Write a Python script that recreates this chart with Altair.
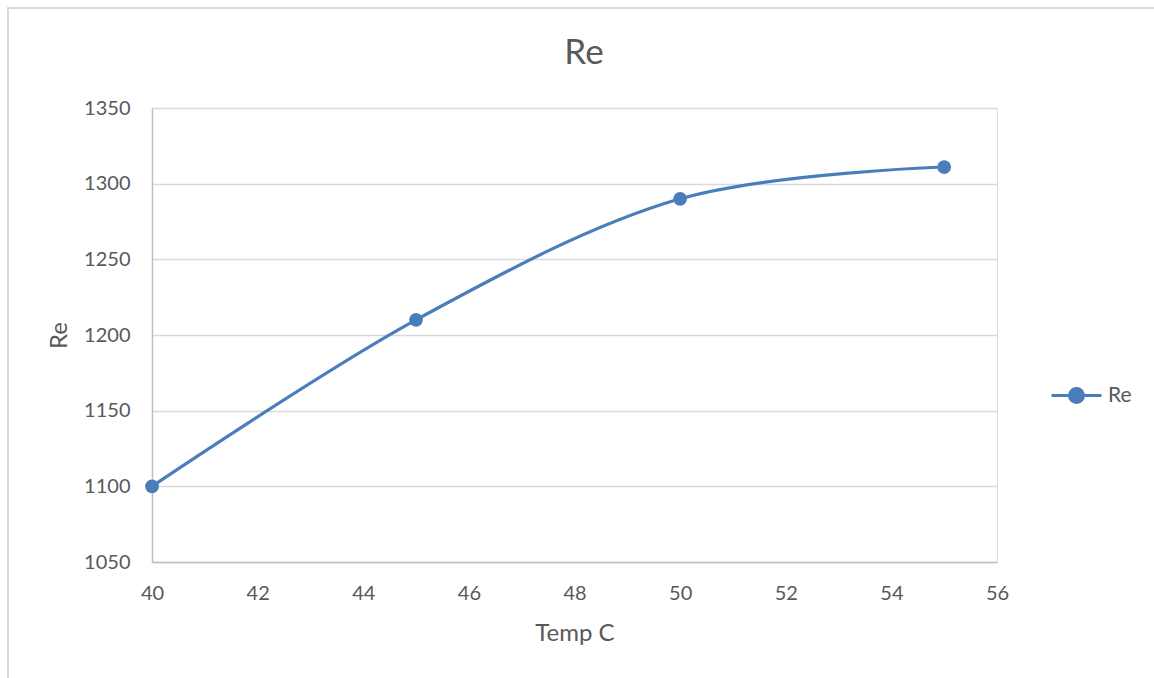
import altair as alt
import pandas as pd

temps = [40, 45, 50, 55]
re_vals = [1100, 1210, 1290, 1311]
series = ["Re"] * 4

df = pd.DataFrame({"Temp C": temps, "Re": re_vals, "series": series})

BLUE = "#4A7EBB"
TXT = "#595959"
FONT = "Lato"

x = alt.X("Temp C:Q", scale=alt.Scale(domain=[40, 56], nice=False),
          axis=alt.Axis(values=list(range(40, 57, 2)), grid=False, ticks=False, labelFlush=False,
                        format="d",
                        domainColor="#bfbfbf", domainWidth=1.5, labelFontSize=20,
                        labelColor=TXT, labelFont=FONT, labelPadding=21,
                        title="Temp C", titleFontSize=24, titleFont=FONT,
                        titleColor=TXT, titleFontWeight="normal", titlePadding=18))
y = alt.Y("Re:Q", scale=alt.Scale(domain=[1050, 1350], nice=False, zero=False),
          axis=alt.Axis(values=list(range(1050, 1351, 50)), grid=True, gridColor="#d9d9d9",
                        format="d", labelFlush=False,
                        gridWidth=1.5, ticks=False, domainColor="#bfbfbf", domainWidth=1.5,
                        labelFontSize=20, labelColor=TXT, labelFont=FONT, labelPadding=22,
                        title="Re", titleFontSize=24, titleFont=FONT, titleColor=TXT,
                        titleFontWeight="normal", titlePadding=12))

color = alt.Color("series:N", scale=alt.Scale(range=[BLUE]),
                  legend=alt.Legend(title=None, orient="none", legendX=898, legendY=261,
                                    symbolType="M-1,0L1,0M-0.28,0A0.28,0.28 0 1,1 0.28,0A0.28,0.28 0 1,1 -0.28,0Z",
                                    symbolSize=2500, symbolStrokeWidth=3,
                                    symbolFillColor=BLUE, symbolStrokeColor=BLUE,
                                    labelFontSize=21, labelFont=FONT, labelColor=TXT,
                                    labelOffset=5))

line = alt.Chart(df).mark_line(interpolate="cardinal", strokeWidth=3.2).encode(x=x, y=y, color=color)
pts = alt.Chart(df).mark_circle(size=190, opacity=1).encode(
    x=x, y=y, color=alt.Color("series:N", scale=alt.Scale(range=[BLUE]), legend=None))

border = alt.Chart(df).mark_rect(fill=None, stroke="#d9d9d9", strokeWidth=1.5).encode(
    x=alt.value(-144), x2=alt.value(1010), y=alt.value(-100), y2=alt.value(585))

title = alt.Chart(pd.DataFrame({"t": ["Re"]})).mark_text(
    fontSize=35, font=FONT, color=TXT, align="center", baseline="middle").encode(
    text="t:N", x=alt.value(432), y=alt.value(-55))

chart = alt.layer(border, line, pts, title).properties(
    width=845, height=454,
    autosize="none",
    padding={"left": 152, "top": 108, "right": 157, "bottom": 116},
).configure_view(stroke=None).configure(background="white")

chart.save("out.html", embed_options={"renderer": "svg", "actions": False})
